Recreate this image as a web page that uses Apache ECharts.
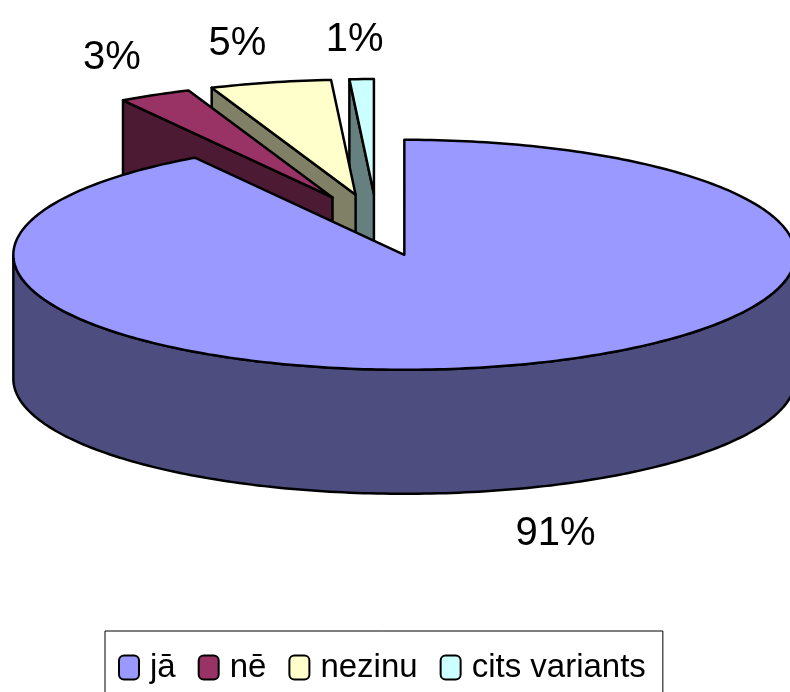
<!DOCTYPE html>
<html>
<head>
<meta charset="utf-8">
<style>
  html, body { margin: 0; padding: 0; background: #fff; }
  #chart { width: 790px; height: 692px; }
</style>
</head>
<body>
<div id="chart"></div>
<script src="https://cdn.jsdelivr.net/npm/echarts@6/dist/echarts.min.js"></script>
<script>
var categories = ['jā', 'nē', 'nezinu', 'cits variants']
var values = [91, 3, 5, 1]
var topColors = ['#9999ff', '#993366', '#ffffcc', '#ccffff']
var wallColors = ['#4d4d80', '#4d1a33', '#808066', '#668080']

// pie geometry, exploded slices all move away from this centre
var cx = 377, cy = 225, rx = 391, ry = 115, depth = 124
var explodeX = 98, explodeY = 31
var labelNudgeX = [42, -43, -33, -7]
var labelNudgeY = [45, -37, -39, -39]
var fontName = '"Liberation Sans", Arial, sans-serif'

var total = values.reduce(function (a, b) { return a + b }, 0)

function rad(d) { return d * Math.PI / 180 }

function startAngle(i) {
  var sum = 0
  for (var k = 0; k < i; k++) sum += values[k]
  return sum / total * 360
}

function edge(ax, ay, t) {
  return [ax + rx * Math.sin(rad(t)), ay - ry * Math.cos(rad(t))]
}

function down(p) { return [p[0], p[1] + depth] }

function poly(points, fill) {
  return {
    type: 'polygon',
    shape: { points: points },
    style: { fill: fill, stroke: '#000', lineWidth: 2.5, lineJoin: 'round' }
  }
}

function arcPoints(ax, ay, from, to) {
  var pts = []
  for (var t = from; t < to; t += 1) pts.push(edge(ax, ay, t))
  pts.push(edge(ax, ay, to))
  return pts
}

function renderSlice(i) {
  var from = startAngle(i)
  var to = from + values[i] / total * 360
  var mid = (from + to) / 2
  var ax = cx + explodeX * Math.sin(rad(mid))
  var ay = cy - explodeY * Math.cos(rad(mid))
  var apex = [ax, ay]
  var children = []

  // radial wall is only seen when it faces the viewer
  if (from > 180 && from < 360) {
    var a = edge(ax, ay, from)
    children.push(poly([apex, a, down(a), down(apex)], wallColors[i]))
  }
  if (to > 0 && to < 180) {
    var b = edge(ax, ay, to)
    children.push(poly([apex, b, down(b), down(apex)], wallColors[i]))
  }
  // outer rim, front half of the ellipse
  var rimFrom = Math.max(from, 90), rimTo = Math.min(to, 270)
  if (rimFrom < rimTo) {
    var rim = arcPoints(ax, ay, rimFrom, rimTo)
    children.push(poly(rim.concat(rim.map(down).reverse()), wallColors[i]))
  }
  children.push(poly([apex].concat(arcPoints(ax, ay, from, to)), topColors[i]))

  var outer = edge(ax, ay, mid)
  var labelY = outer[1] + labelNudgeY[i] + (mid > 90 && mid < 270 ? depth : 0)
  children.push({
    type: 'text',
    style: {
      x: outer[0] + labelNudgeX[i],
      y: labelY,
      text: Math.round(values[i] / total * 100) + '%',
      fill: '#000',
      font: '40px ' + fontName,
      align: 'center',
      verticalAlign: 'middle'
    }
  })
  return { type: 'group', children: children }
}

var series = categories.map(function (name, i) {
  return {
    type: 'custom',
    name: name,
    coordinateSystem: 'none',
    silent: true,
    animation: false,
    clip: false,
    z: categories.length - i + 1, // first slice sits in front
    itemStyle: { color: topColors[i] },
    data: [[values[i]]],
    renderItem: function () { return renderSlice(i) }
  }
})

var chart = echarts.init(document.getElementById('chart'), null, { renderer: 'canvas' })
chart.setOption({
  backgroundColor: '#fff',
  animation: false,
  legend: {
    data: categories,
    left: 105,
    top: 631,
    orient: 'horizontal',
    selectedMode: false,
    padding: [20, 17, 32, 13],
    itemGap: 22,
    itemWidth: 20,
    itemHeight: 24,
    icon: 'roundRect',
    borderColor: '#000',
    borderWidth: 1,
    itemStyle: { borderColor: '#000', borderWidth: 2 },
    textStyle: {
      color: '#000',
      fontFamily: fontName,
      fontSize: 33,
      padding: [0, 0, 0, 6]
    }
  },
  series: series
})
</script>
</body>
</html>
